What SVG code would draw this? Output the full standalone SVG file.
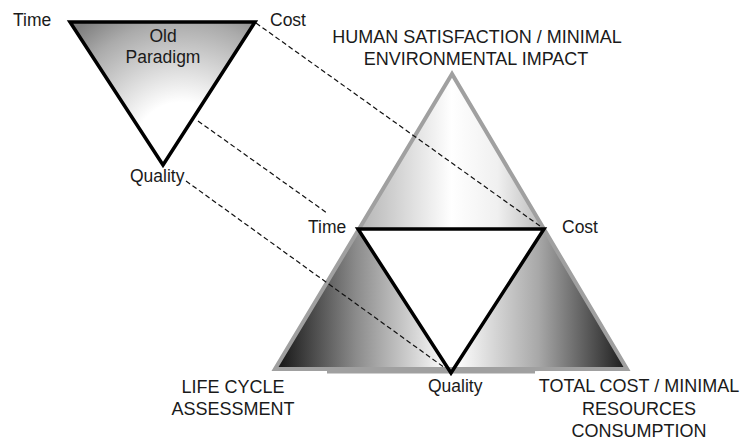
<svg xmlns="http://www.w3.org/2000/svg" width="745" height="444" viewBox="0 0 745 444">
<defs>
<style>
text{font-family:"Liberation Sans",Arial,sans-serif;fill:#1a1a1a}
.lc{font-size:17.5px}
.uc{font-size:18px}
.mid{text-anchor:middle}
.dash{fill:none;stroke:#111;stroke-width:1.2;stroke-dasharray:5 3}
.blk{stroke:#000;stroke-width:3.5;stroke-linejoin:miter}
</style>
<radialGradient id="gOld" gradientUnits="userSpaceOnUse" cx="182" cy="150" r="160">
<stop offset="0" stop-color="#ffffff"/>
<stop offset="0.3" stop-color="#ffffff"/>
<stop offset="0.8" stop-color="#ababab"/>
<stop offset="1" stop-color="#7e7e7e"/>
</radialGradient>
<linearGradient id="gTop" gradientUnits="userSpaceOnUse" x1="359" y1="0" x2="544" y2="0">
<stop offset="0" stop-color="#b4b4b4"/>
<stop offset="0.5" stop-color="#ffffff"/>
<stop offset="0.75" stop-color="#f0f0f0"/>
<stop offset="1" stop-color="#b8b8b8"/>
</linearGradient>
<linearGradient id="gLeft" gradientUnits="userSpaceOnUse" x1="282" y1="0" x2="448" y2="0">
<stop offset="0" stop-color="#1c1c1c"/>
<stop offset="0.45" stop-color="#8c8c8c"/>
<stop offset="1" stop-color="#ffffff"/>
</linearGradient>
<linearGradient id="gRight" gradientUnits="userSpaceOnUse" x1="455" y1="0" x2="622" y2="0">
<stop offset="0" stop-color="#ffffff"/>
<stop offset="0.5" stop-color="#a8a8a8"/>
<stop offset="1" stop-color="#222222"/>
</linearGradient>
</defs>
<rect width="745" height="444" fill="#ffffff"/>

<g id="old-paradigm">
<polygon points="70,22 255,22 163,165" fill="url(#gOld)" class="blk"/>
<text class="lc mid" x="163" y="41.5">Old</text>
<text class="lc mid" x="163" y="63">Paradigm</text>
<text class="lc" x="13" y="26">Time</text>
<text class="lc" x="270" y="26">Cost</text>
<text class="lc" x="130" y="182">Quality</text>
</g>

<g id="new-paradigm">
<polygon points="452,74 359,228 544,228" fill="url(#gTop)"/>
<polygon points="359,228 275,369 451,373" fill="url(#gLeft)"/>
<polygon points="544,228 451,373 627,369" fill="url(#gRight)"/>
<polygon points="359,228 544,228 451,373" fill="#ffffff"/>
<polygon points="452,74 275,369 627,369" fill="none" stroke="#a0a0a0" stroke-width="4" stroke-linejoin="miter"/>
<line x1="327" y1="371.5" x2="535" y2="371.5" stroke="#a0a0a0" stroke-width="4"/>
<polygon points="358,229 544,229 451,373" fill="none" class="blk"/>
</g>

<g id="labels">
<text class="uc mid" x="477" y="43">HUMAN SATISFACTION / MINIMAL</text>
<text class="uc mid" x="476" y="65">ENVIRONMENTAL IMPACT</text>
<text class="lc" x="308" y="232.5">Time</text>
<text class="lc" x="562" y="232.5">Cost</text>
<text class="lc" x="428" y="392">Quality</text>
<text class="uc mid" x="233" y="393">LIFE CYCLE</text>
<text class="uc mid" x="233" y="415">ASSESSMENT</text>
<text class="uc mid" x="639" y="392">TOTAL COST / MINIMAL</text>
<text class="uc mid" x="639" y="415">RESOURCES</text>
<text class="uc mid" x="639" y="437">CONSUMPTION</text>
</g>

<g id="connectors">
<line class="dash" x1="256" y1="23" x2="540" y2="226"/>
<line class="dash" x1="198" y1="121" x2="327" y2="213"/>
<line class="dash" x1="186" y1="181" x2="445" y2="368"/>
</g>
</svg>
